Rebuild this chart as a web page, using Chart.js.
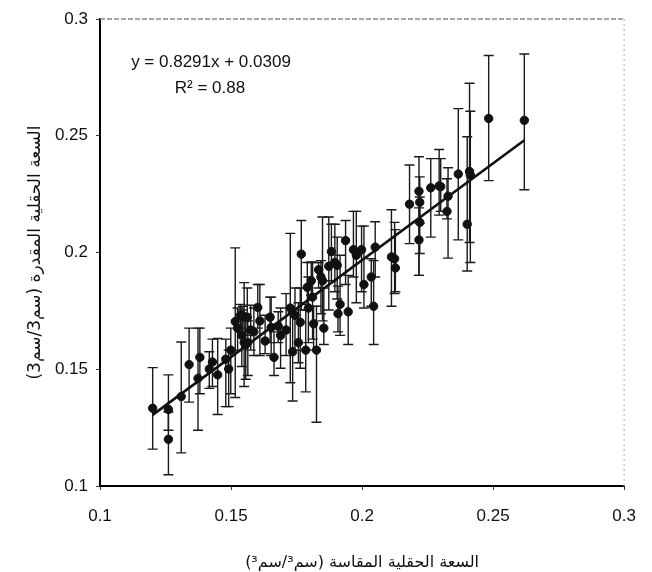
<!DOCTYPE html>
<html><head><meta charset="utf-8">
<script src="https://cdn.jsdelivr.net/npm/chart.js@4/dist/chart.umd.min.js"></script>
<style>html,body{margin:0;padding:0;background:#fff}#wrap{width:652px;height:572px}</style>
</head><body><div id="wrap"><canvas id="c" width="652" height="572"></canvas></div>
<script>
// measured field capacity (x)
const measured = [
0.1201,0.1261,0.1261,0.1310,0.1340,0.1374,0.1381,0.1417,0.1429,0.1449,
0.1480,0.1491,0.1499,0.1516,0.1525,0.1536,0.1541,0.1545,0.1550,0.1556,
0.1562,0.1564,0.1575,0.1587,0.1602,0.1610,0.1630,0.1649,0.1653,0.1664,
0.1680,0.1689,0.1710,0.1726,0.1735,0.1744,0.1757,0.1764,0.1768,0.1785,
0.1791,0.1795,0.1806,0.1811,0.1815,0.1826,0.1834,0.1843,0.1849,0.1854,
0.1873,0.1883,0.1896,0.1905,0.1908,0.1916,0.1937,0.1947,0.1967,0.1978,
0.1998,0.2007,0.2035,0.2044,0.2050,0.2112,0.2124,0.2127,0.2181,0.2217,
0.2220,0.2220,0.2217,0.2262,0.2294,0.2300,0.2324,0.2328,0.2367,0.2401,
0.2410,0.2413,0.2483,0.2619];
// estimated field capacity (y)
const estimated = [
0.1333,0.1328,0.1200,0.1383,0.1520,0.1461,0.1551,0.1501,0.1531,0.1476,
0.1543,0.1501,0.1582,0.1704,0.1676,0.1731,0.1645,0.1729,0.1614,0.1606,
0.1723,0.1614,0.1668,0.1660,0.1765,0.1707,0.1621,0.1723,0.1679,0.1551,
0.1684,0.1645,0.1668,0.1762,0.1575,0.1731,0.1614,0.1701,0.1993,0.1582,
0.1851,0.1762,0.1879,0.1809,0.1695,0.1582,0.1926,0.1895,0.1879,0.1676,
0.1941,0.2004,0.1957,0.1945,0.1738,0.1778,0.2051,0.1746,0.2012,0.1988,
0.2012,0.1863,0.1895,0.1770,0.2023,0.1981,0.1973,0.1934,0.2207,0.2262,
0.2215,0.2129,0.2054,0.2277,0.2285,0.2282,0.2176,0.2241,0.2336,0.2121,
0.2347,0.2332,0.2574,0.2566];
// error bar upper ends
const upper = [
0.1507,0.1476,0.1317,0.1617,0.1676,0.1676,0.1676,0.1575,0.1629,0.1632,
0.1629,0.1582,0.1676,0.2020,0.1762,0.1778,0.1754,0.1770,0.1871,0.1707,
0.1848,0.1707,0.1774,0.1762,0.1863,0.1863,0.1731,0.1809,0.1809,0.1660,
0.1746,0.1762,0.1824,0.2082,0.1742,0.1848,0.1785,0.1848,0.2137,0.1778,
0.1957,0.1895,0.1960,0.1957,0.1770,0.1770,0.1957,0.1965,0.2152,0.1848,
0.2152,0.2121,0.2121,0.2066,0.1856,0.1988,0.2137,0.1902,0.2176,0.2176,
0.2113,0.2113,0.1973,0.1965,0.2132,0.2183,0.2129,0.2098,0.2375,0.2410,
0.2324,0.2238,0.2191,0.2402,0.2441,0.2402,0.2316,0.2363,0.2616,0.2496,
0.2725,0.2605,0.2844,0.2850];
// error bar lower ends
const lower = [
0.1158,0.1239,0.1048,0.1142,0.1359,0.1239,0.1395,0.1418,0.1426,0.1306,
0.1340,0.1340,0.1395,0.1379,0.1582,0.1676,0.1512,0.1660,0.1426,0.1457,
0.1645,0.1473,0.1582,0.1559,0.1676,0.1559,0.1567,0.1614,0.1559,0.1473,
0.1614,0.1504,0.1559,0.1442,0.1364,0.1582,0.1528,0.1504,0.1754,0.1403,
0.1754,0.1614,0.1817,0.1629,0.1582,0.1273,0.1848,0.1738,0.1707,0.1606,
0.1754,0.1879,0.1832,0.1801,0.1660,0.1645,0.1863,0.1606,0.1895,0.1785,
0.1832,0.1762,0.1770,0.1606,0.1895,0.1770,0.1824,0.1832,0.2038,0.1902,
0.2126,0.1996,0.1902,0.2066,0.2160,0.2176,0.2144,0.1976,0.2054,0.1921,
0.2043,0.1957,0.2308,0.2269];

const xTicks = [0.1, 0.15, 0.2, 0.25, 0.3];
const yTicks = [0.1, 0.15, 0.2, 0.25, 0.3];
const slope = 0.8291;
const intercept = 0.0309;
const trendX = [0.1201, 0.2619];
const equationText = 'y = 0.8291x + 0.0309';
const r2Text = 'R² = 0.88';
const xTitle = 'السعة الحقلية المقاسة (سم³/سم³)';
const yTitle = 'السعة الحقلية المقدرة (سم3/سم3)';

const points = measured.map((x, i) => ({x: x, y: estimated[i]}));
const trend = trendX.map(x => ({x: x, y: slope * x + intercept}));

const errorBars = {
  id: 'errorBars',
  beforeDatasetsDraw(chart) {
    const {ctx, scales: {x, y}} = chart;
    ctx.save();
    ctx.strokeStyle = '#1a1a1a';
    ctx.lineWidth = 1.4;
    for (let i = 0; i < measured.length; i++) {
      const px = x.getPixelForValue(measured[i]);
      const pt = y.getPixelForValue(upper[i]);
      const pb = y.getPixelForValue(lower[i]);
      ctx.beginPath();
      ctx.moveTo(px, pt); ctx.lineTo(px, pb);
      ctx.moveTo(px - 5, pt); ctx.lineTo(px + 5, pt);
      ctx.moveTo(px - 5, pb); ctx.lineTo(px + 5, pb);
      ctx.stroke();
    }
    ctx.restore();
  }
};

const frameAndText = {
  id: 'frameAndText',
  afterDraw(chart) {
    const {ctx, chartArea: a} = chart;
    ctx.save();
    ctx.strokeStyle = '#888';
    ctx.lineWidth = 1.5;
    ctx.setLineDash([5, 2]);
    ctx.beginPath();
    ctx.moveTo(a.left, a.top); ctx.lineTo(a.right, a.top);
    ctx.stroke();
    ctx.strokeStyle = '#ccc';
    ctx.setLineDash([2, 3]);
    ctx.beginPath();
    ctx.moveTo(a.right, a.top); ctx.lineTo(a.right, a.bottom);
    ctx.stroke();
    ctx.setLineDash([]);
    ctx.fillStyle = '#111';
    ctx.font = '17px "Liberation Sans", Arial, sans-serif';
    ctx.textAlign = 'center';
    ctx.textBaseline = 'middle';
    ctx.fillText(equationText, a.left + 111, a.top + 43);
    ctx.fillText(r2Text, a.left + 110, a.top + 69);
    ctx.restore();
  }
};

new Chart(document.getElementById('c'), {
  type: 'scatter',
  data: {
    datasets: [
      {
        data: points,
        backgroundColor: '#111',
        borderColor: '#111',
        pointRadius: 4.2,
        pointHoverRadius: 4.2,
        order: 1
      },
      {
        type: 'line',
        data: trend,
        borderColor: '#111',
        borderWidth: 2.6,
        pointRadius: 0,
        fill: false,
        order: 0
      }
    ]
  },
  options: {
    responsive: false,
    animation: false,
    devicePixelRatio: 1,
    layout: {padding: {top: 19, right: 14, left: 0, bottom: 0}},
    plugins: {legend: {display: false}, tooltip: {enabled: false}},
    scales: {
      x: {
        type: 'linear', min: 0.1, max: 0.3,
        afterBuildTicks: s => { s.ticks = xTicks.map(v => ({value: v})); },
        afterFit: s => { s.height = 86; },
        grid: {drawOnChartArea: false, drawTicks: true, tickLength: 4, color: '#333'},
        border: {display: true, color: '#000', width: 2},
        ticks: {
          padding: 16, color: '#111', maxRotation: 0,
          font: {family: '"Liberation Sans", Arial, sans-serif', size: 17},
          callback: v => String(Number(v.toFixed(2)))
        },
        title: {
          display: true, text: '\u202B' + xTitle + '\u202C', color: '#111',
          font: {family: '"DejaVu Sans", sans-serif', size: 16, lineHeight: 1.2},
          padding: {top: 0, bottom: 0}
        }
      },
      y: {
        type: 'linear', min: 0.1, max: 0.3,
        afterBuildTicks: s => { s.ticks = yTicks.map(v => ({value: v})); },
        afterFit: s => { s.width = 100; },
        grid: {drawOnChartArea: false, drawTicks: true, tickLength: 4, color: '#333'},
        border: {display: true, color: '#000', width: 2},
        ticks: {
          padding: 8, color: '#111',
          font: {family: '"Liberation Sans", Arial, sans-serif', size: 17},
          callback: v => String(Number(v.toFixed(2)))
        },
        title: {
          display: true, text: '\u202B' + yTitle + '\u202C', color: '#111',
          font: {family: '"DejaVu Sans", sans-serif', size: 17, lineHeight: 1.2},
          padding: {top: 25, bottom: 0}
        }
      }
    }
  },
  plugins: [errorBars, frameAndText]
});
</script>
</body></html>
